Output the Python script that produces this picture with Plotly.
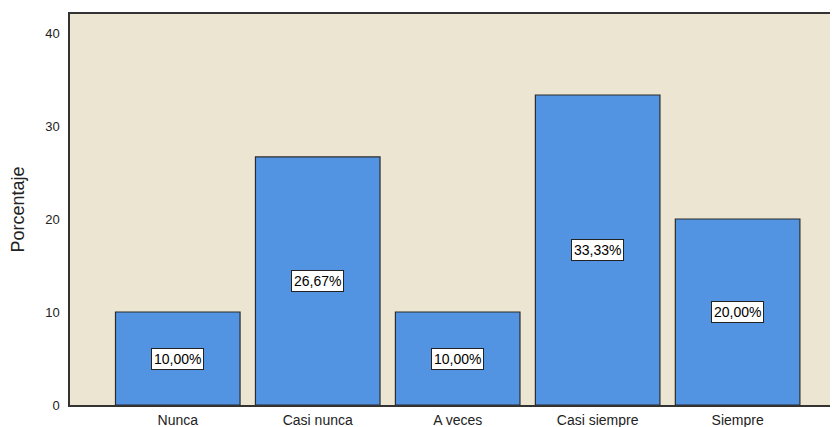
import plotly.graph_objects as go

categories = ["Nunca", "Casi nunca", "A veces", "Casi siempre", "Siempre"]
values = [10.00, 26.67, 10.00, 33.33, 20.00]
labels = ["10,00%", "26,67%", "10,00%", "33,33%", "20,00%"]
y_ticks = [0, 10, 20, 30, 40]

FONT = "Liberation Sans, Arial, sans-serif"

fig = go.Figure()
fig.add_trace(go.Bar(
    x=categories, y=values, width=0.89,
    marker=dict(color="#5294E2", line=dict(color="#2b2b2b", width=1.2)),
    hoverinfo="skip",
))

for c, v, t in zip(categories, values, labels):
    fig.add_annotation(
        x=c, y=v / 2, text=t, showarrow=False,
        font=dict(family=FONT, size=14, color="#000000"),
        bgcolor="#ffffff", bordercolor="#222222", borderwidth=1, borderpad=2,
    )

fig.update_layout(
    width=832, height=427,
    margin=dict(l=70, r=2, t=14, b=22),
    paper_bgcolor="#ffffff",
    plot_bgcolor="#EBE5D1",
    showlegend=False,
    font=dict(family=FONT, size=13, color="#222222"),
    xaxis=dict(
        range=[-0.77, 4.66], showgrid=False, zeroline=False, automargin=False,
        showline=True, mirror=True, linecolor="#333333", linewidth=1.5,
        ticks="outside", ticklen=1, tickcolor="rgba(0,0,0,0)",
        tickfont=dict(size=14, color="#222222"),
    ),
    yaxis=dict(
        range=[0, 42.04], tickvals=y_ticks, showgrid=False, zeroline=False,
        showline=True, linecolor="#333333", linewidth=1.5,
        ticks="outside", ticklen=6, tickcolor="rgba(0,0,0,0)",
        tickfont=dict(size=13, color="#222222"),
        title=dict(text="Porcentaje", font=dict(size=18, color="#222222"), standoff=16),
    ),
)

fig.write_html("out.html")
